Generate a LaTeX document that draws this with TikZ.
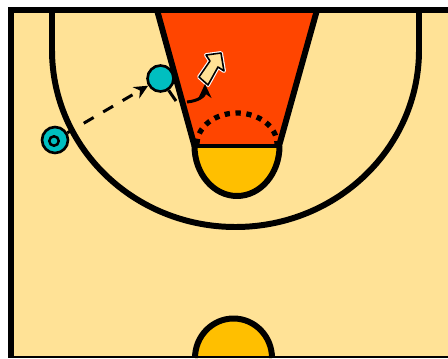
\documentclass[tikz,border=0pt]{standalone}
\usepackage{tikz}
\usetikzlibrary{positioning,arrows.meta,calc}
\definecolor{courtcol}{HTML}{FFE296}
\definecolor{keycol}{HTML}{FF4500}
\definecolor{circlecol}{HTML}{FFBF00}
\definecolor{playercol}{HTML}{00BFC0}

\begin{document}
\begin{tikzpicture}[x=0.02cm,y=-0.02cm,
court/.style={draw=black,line width=3.4pt},
player/.style={circle,draw=black,fill=playercol,line width=1.5pt,minimum size=0.52cm,inner sep=0pt},
ball/.style={circle,draw=black,line width=1.4pt,minimum size=0.19cm,inner sep=0pt},
arr/.style={-{Stealth[length=2.8mm,width=2.6mm]},line width=1.7pt},
pass/.style={arr,dash pattern=on 6.5pt off 6.3pt,dash phase=2pt}]
\useasboundingbox (0,0) rectangle (448,358);
\fill[white] (0,0) rectangle (448,358);
\fill[courtcol] (11,10) rectangle (448,358);
% key and free throw circle
\fill[keycol] (157,10) -- (317,10) -- (279,146) -- (194,146) -- cycle;
\filldraw[court,fill=circlecol] (194.5,146) arc[start angle=180,end angle=0,x radius=42.5,y radius=50];
\draw[court] (157,10) -- (194.5,146);
\draw[court] (317,10) -- (279,146);
\draw[black,line width=1.9pt] (194.5,146) -- (279,146);
\draw[black,line width=3pt,dash pattern=on 3pt off 3.2pt] (197,144) arc[start angle=180,end angle=0,x radius=40,y radius=-31];
% players
\node[player] (shooter) at (55,140) {};
\node[ball] (ball) at (54,141) {};
\node[player] (cutter) at (160.5,78.5) {};
\coordinate (cutend) at (176,101);
\coordinate (curvestart) at (187,102);
\coordinate (blocktail) at (205,84);
\draw[pass] (shooter) -- (cutter);
\draw[black,line width=1.7pt] (cutter) -- (cutend);
% three point line
\draw[court] (52,10) -- (52,50) arc[start angle=180,end angle=0,x radius=183.5,y radius=177] -- (419,10);
% bottom circle
\filldraw[court,fill=circlecol] (195,358) arc[start angle=180,end angle=0,x radius=38.5,y radius=-39.5];
% outer lines
\draw[court] (448,10) -- (11,10) -- (11,358);
\draw[black,line width=1.4pt] (11,357) -- (448,357);
% block arrow
\draw[white,line width=2.2pt,line join=round] (199,77) -- (210,61) -- (206,55) -- (221,53) -- (224,71) -- (218,67) -- (208,85) -- cycle;
\filldraw[draw=black,fill=courtcol,line width=0.9pt,line join=round] (199,77) -- (210,61) -- (206,55) -- (221,53) -- (224,71) -- (218,67) -- (208,85) -- cycle;
\draw[arr] (curvestart) .. controls (198,101) and (205,96) .. (blocktail);
\end{tikzpicture}
\end{document}
